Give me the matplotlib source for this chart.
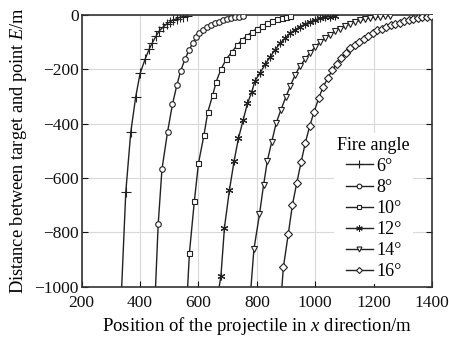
import matplotlib
matplotlib.use("Agg")
import matplotlib.pyplot as plt

plt.rcParams['font.family'] = ['Liberation Serif', 'DejaVu Serif']
plt.rcParams['mathtext.fontset'] = 'custom'
plt.rcParams['mathtext.rm'] = 'Liberation Serif'
plt.rcParams['mathtext.it'] = 'Liberation Serif:italic'

labels = ["6°", "8°", "10°", "12°", "14°", "16°"]
markers = ["+", "o", "s", (6, 2, 0), "v", "D"]

x6 = [337, 351, 368, 385, 400, 417, 431, 442, 455, 466, 480, 491, 503, 514, 526, 537, 548, 560]
e6 = [-1000, -651, -432, -301, -215, -163, -126, -102, -77, -58, -43, -33, -25, -18, -14, -8, -6, -4]

x8 = [453, 462, 475, 494, 511, 526, 539, 554, 568, 581, 592, 603, 616, 630, 643, 657, 671, 685, 698, 712, 726, 739, 753]
e8 = [-1000, -770, -567, -431, -328, -258, -206, -162, -129, -102, -82, -67, -55, -45, -37, -31, -26, -20, -16, -12, -9, -6, -4]

x10 = [563, 569, 586, 600, 619, 632, 649, 661, 677, 695, 715, 732, 749, 766, 783, 800, 817, 834, 851, 869, 886, 900, 914]
e10 = [-1000, -876, -684, -546, -441, -357, -294, -245, -200, -163, -135, -112, -92, -76, -63, -50, -41, -31, -23, -16, -11, -7, -5]

x12 = [671, 677, 689, 706, 722, 737, 753, 768, 783, 794, 811, 829, 846, 863, 880, 897, 914, 931, 948, 966, 983, 1000, 1017, 1034, 1051, 1068]
e12 = [-1000, -961, -783, -645, -538, -454, -387, -325, -282, -241, -214, -180, -154, -127, -104, -85, -67, -54, -43, -33, -25, -18, -12, -8, -6, -3]

x14 = [780, 790, 809, 823, 836, 851, 866, 882, 899, 914, 931, 948, 966, 983, 1000, 1017, 1034, 1051, 1068, 1086, 1103, 1120, 1137, 1154, 1171, 1188, 1206, 1223, 1240, 1257]
e14 = [-1000, -862, -734, -626, -537, -467, -399, -350, -303, -263, -221, -188, -162, -138, -118, -99, -85, -72, -59, -50, -41, -32, -25, -20, -15, -11, -8, -6, -4, -2]

x16 = [886, 891, 908, 922, 937, 952, 966, 981, 996, 1012, 1027, 1043, 1058, 1074, 1089, 1104, 1120, 1135, 1151, 1166, 1182, 1197, 1212, 1228, 1243, 1259, 1274, 1290, 1305, 1320, 1336, 1351, 1367, 1382, 1397]
e16 = [-1000, -928, -804, -698, -617, -540, -471, -409, -357, -306, -265, -232, -204, -180, -158, -140, -123, -110, -98, -87, -76, -66, -57, -50, -44, -38, -33, -28, -23, -18, -15, -12, -9, -7, -4]

xs = [x6, x8, x10, x12, x14, x16]
es = [e6, e8, e10, e12, e14, e16]

xticks = [200, 400, 600, 800, 1000, 1200, 1400]
yticks = [-1000, -800, -600, -400, -200, 0]

fig = plt.figure(figsize=(4.49, 3.41), dpi=100)
ax = fig.add_axes([0.182, 0.159, 0.780, 0.797])

msizes = [6.5, 4.0, 3.6, 5.5, 4.2, 3.6]
for xv, ev, lab, mk, ms in zip(xs, es, labels, markers, msizes):
    ax.plot(xv[1:], ev[1:], linestyle='none', marker=mk, ms=ms,
            mfc='white', mec='#222222', mew=0.8, zorder=3)
    ax.plot(xv, ev, color='#222222', lw=1.0, zorder=2)
    ax.plot([], [], color='#222222', lw=1.0, marker=mk, ms=ms * 0.85,
            mfc='white', mec='#222222', mew=0.8, label=lab)

ax.set_xlim(200, 1400)
ax.set_ylim(-1000, 0)
ax.set_xticks(xticks)
ax.set_yticks(yticks)
ax.set_xticklabels([str(t) for t in xticks])
ax.set_yticklabels(["\u2212" + str(-t) if t < 0 else str(t) for t in yticks])
ax.grid(True, color='#d8d8d8', lw=0.8)
ax.set_axisbelow(True)
ax.tick_params(direction='in', length=4, width=0.8, top=False, right=True, labelsize=12.5, colors='#111111')
ax.tick_params(axis='x', pad=6)
ax.tick_params(axis='y', pad=2)
for s in ax.spines.values():
    s.set_linewidth(1.2)
    s.set_color('#333333')

ax.set_xlabel("Position of the projectile in $\\mathit{x}$ direction/m", fontsize=13.5, labelpad=3)
ax.set_ylabel("Distance between target and point $\\mathit{E}$/m", fontsize=13.2, labelpad=4)

leg = ax.legend(title="Fire angle", loc='lower right', bbox_to_anchor=(0.955, 0.0),
                fontsize=13, title_fontsize=13, frameon=True, framealpha=1.0,
                edgecolor='none', facecolor='white', handlelength=1.5, handletextpad=0.2,
                labelspacing=0.23, borderpad=0.2, borderaxespad=0.15)

fig.savefig("out.png", dpi=100)
